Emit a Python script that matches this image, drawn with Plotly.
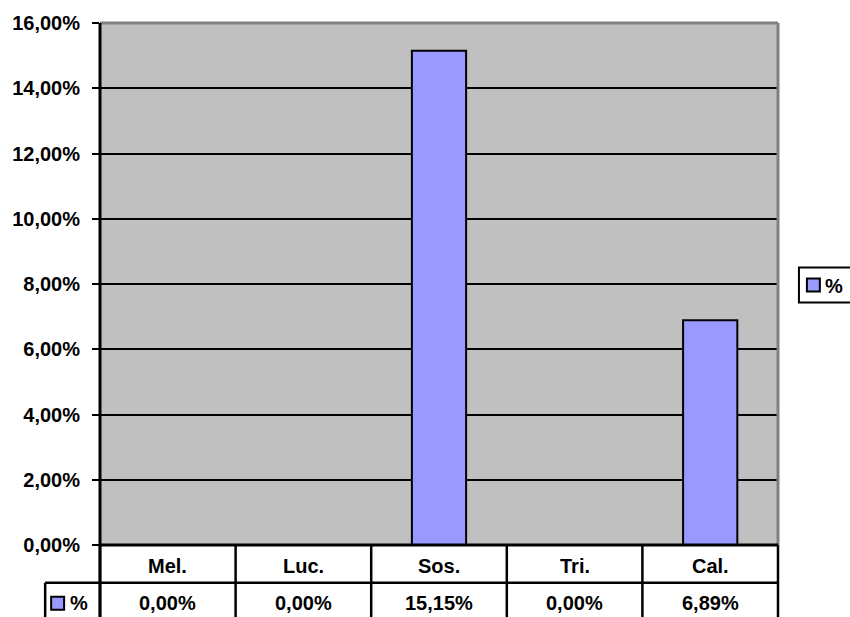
import plotly.graph_objects as go

# === Datos ===
categorias = ['Mel.', 'Luc.', 'Sos.', 'Tri.', 'Cal.']
valores = [0.0, 0.0, 0.1515, 0.0, 0.0689]
serie = '%'
y_ticks = [0, 0.02, 0.04, 0.06, 0.08, 0.10, 0.12, 0.14, 0.16]

# === Estilo ===
W, H = 850, 617
ml, mr, mt, mb = 98, 72, 20, 72
ph = H - mt - mb
pw = W - ml - mr
fuente = dict(family='Liberation Sans, Arial', size=20, color='black', weight='bold')
azul = '#9999FF'

def py(px):
    # pixel vertical -> coordenada paper
    return (H - mb - px) / ph

def px_(x):
    # pixel horizontal -> coordenada paper
    return (x - ml) / pw

fila1 = py(583)   # fondo fila categorias
fila2 = py(640)   # fondo fila valores (fuera de la imagen)

fig = go.Figure()
fig.add_trace(go.Bar(
    x=categorias, y=valores, name=serie, width=0.4, showlegend=False,
    marker=dict(color=azul, line=dict(color='black', width=2)),
    hoverinfo='skip',
))

linea = dict(color='black', width=2.5)
shapes = []
# borde superior/derecho gris del area de trazado
shapes.append(dict(type='line', xref='paper', yref='paper', x0=0, x1=1, y0=1, y1=1,
                   line=dict(color='#808080', width=3)))
shapes.append(dict(type='line', xref='paper', yref='paper', x0=1, x1=1, y0=0, y1=1,
                   line=dict(color='#808080', width=3)))
# tabla de datos
n = len(categorias)
for i in range(n + 1):
    shapes.append(dict(type='line', xref='paper', yref='paper', x0=i / n, x1=i / n,
                       y0=0, y1=fila2, line=linea))
shapes.append(dict(type='line', xref='paper', yref='paper', x0=px_(43), x1=1,
                   y0=fila1, y1=fila1, line=linea))
shapes.append(dict(type='line', xref='paper', yref='paper', x0=px_(43), x1=px_(43),
                   y0=fila1, y1=fila2, line=linea))
# eje y y eje x
shapes.append(dict(type='line', xref='paper', yref='paper', x0=0, x1=0, y0=1, y1=fila2,
                   line=dict(color='black', width=3)))
shapes.append(dict(type='line', xref='paper', yref='paper', x0=0, x1=1, y0=0, y1=0,
                   line=dict(color='black', width=3)))
# clave de la serie en la tabla
shapes.append(dict(type='rect', xref='paper', yref='paper', x0=px_(49), x1=px_(62),
                   y0=py(610), y1=py(597), fillcolor=azul, line=dict(color='black', width=2)))
# leyenda (caja + clave)
shapes.append(dict(type='rect', xref='paper', yref='paper', x0=px_(799), x1=px_(856),
                   y0=py(301), y1=py(266), fillcolor='white', line=dict(color='black', width=2)))
shapes.append(dict(type='rect', xref='paper', yref='paper', x0=px_(807), x1=px_(820),
                   y0=py(290), y1=py(277), fillcolor=azul, line=dict(color='black', width=2)))

annotations = []
for c, v in zip(categorias, valores):
    annotations.append(dict(x=c, xref='x', y=py(566), yref='paper', text=c,
                            showarrow=False, font=fuente, xanchor='center', yanchor='middle'))
    annotations.append(dict(x=c, xref='x', y=py(603), yref='paper',
                            text=f"{v * 100:.2f}%".replace('.', ','),
                            showarrow=False, font=fuente, xanchor='center', yanchor='middle'))
annotations.append(dict(x=px_(77), xref='paper', y=py(603), yref='paper', text=serie,
                        showarrow=False, font=fuente, xanchor='center', yanchor='middle'))
annotations.append(dict(x=px_(834), xref='paper', y=py(285), yref='paper', text=serie,
                        showarrow=False, font=fuente, xanchor='center', yanchor='middle'))

fig.update_layout(
    width=W, height=H,
    margin=dict(l=ml, r=mr, t=mt, b=mb),
    paper_bgcolor='white', plot_bgcolor='#C0C0C0',
    separators=', ',
    showlegend=False,
    hovermode=False,
    xaxis=dict(range=[-0.5, n - 0.5], showticklabels=False, showgrid=False,
               zeroline=False, showline=False, ticks=''),
    yaxis=dict(range=[0, 0.16], tickvals=y_ticks, tickformat='.2%',
               showgrid=True, gridcolor='black', gridwidth=2, zeroline=False,
               showline=False, ticks='outside', ticklen=7, tickwidth=2,
               tickcolor='black', tickfont=fuente, ticklabelstandoff=8),
    shapes=shapes,
    annotations=annotations,
    bargap=0.6,
)

fig.write_html("out.html", config={'displayModeBar': False},
               post_script="document.body.style.margin='0';")
